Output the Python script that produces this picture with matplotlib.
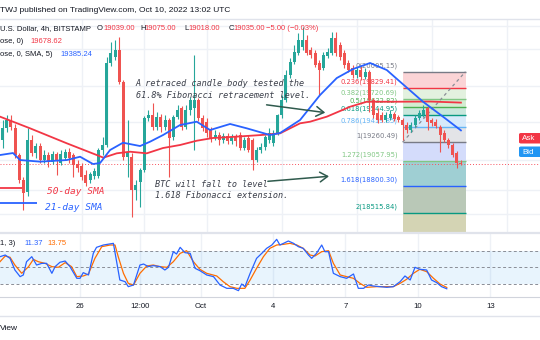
import numpy as np
import matplotlib
matplotlib.use('Agg')
import matplotlib.pyplot as plt
from matplotlib.patches import FancyBboxPatch
from matplotlib.lines import Line2D

plt.rcParams['font.family'] = ['Liberation Sans', 'DejaVu Sans']

# BTC/USD 4h candles (Bitstamp), oldest first
opens = [19285, 19410, 19495, 19410, 19125, 18860, 18735, 19285, 19145, 19220,
         19070, 19125, 19050, 19135, 19040, 19095, 19155, 19125, 19030, 19010,
         18915, 18860, 18905, 18905, 19180, 19230, 20095, 20160, 20235, 19895,
         19105, 19105, 18755, 18840, 18965, 19515, 19550, 19420, 19525, 19420,
         19495, 19315, 19525, 19620, 19420, 19600, 19620, 19705, 19515, 19475,
         19390, 19305, 19335, 19285, 19325, 19275, 19315, 19335, 19200, 19305,
         19285, 19070, 19180, 19210, 19285, 19250, 19360, 19550, 19705, 19970,
         20105, 20200, 20265, 20340, 20235, 20200, 20095, 20045, 20170, 20200,
         20360, 20285, 20200, 20095, 20045, 19970, 20025, 19950, 20000, 19705,
         19570, 19550, 19495, 19515, 19560, 19525, 19495, 19440, 19390, 19440,
         19515, 19550, 19620, 19495, 19475, 19420, 19360, 19285, 19230, 19145,
         19039]
highs = [19495, 19550, 19550, 19455, 19145, 18895, 19410, 19335, 19250, 19250,
         19180, 19155, 19165, 19155, 19180, 19190, 19200, 19145, 19070, 19040,
         18965, 18945, 18990, 19200, 19315, 20160, 20320, 20340, 20370, 19915,
         19495, 19145, 18860, 18990, 19535, 19600, 19675, 19580, 19560, 19550,
         19515, 19550, 19655, 19645, 19655, 19740, 20180, 19725, 19550, 19515,
         19420, 19390, 19370, 19360, 19360, 19345, 19345, 19370, 19315, 19335,
         19305, 19210, 19250, 19335, 19410, 19390, 19560, 19760, 20025, 20150,
         20285, 20415, 20475, 20390, 20265, 20235, 20130, 20215, 20255, 20425,
         20425, 20320, 20235, 20130, 20075, 20055, 20065, 20045, 20025, 19725,
         19620, 19580, 19580, 19600, 19580, 19550, 19515, 19475, 19475, 19550,
         19600, 19655, 19645, 19515, 19505, 19440, 19390, 19305, 19250, 19165,
         19075]
lows = [19200, 19370, 19390, 19095, 18830, 18545, 18690, 19115, 19095, 19040,
        19040, 19000, 19030, 18915, 19020, 19070, 19040, 18895, 18945, 18860,
        18800, 18830, 18870, 18880, 19125, 19210, 20065, 20130, 19875, 19070,
        18895, 18470, 18650, 18575, 18945, 19485, 19390, 19390, 19370, 19390,
        18895, 19285, 19505, 19390, 19400, 19550, 19180, 19485, 19380, 19315,
        19260, 19285, 19230, 19250, 19240, 19240, 19220, 19180, 19180, 19155,
        18965, 19050, 19145, 19180, 19250, 19220, 19335, 19515, 19685, 19940,
        20085, 20180, 20235, 20180, 20150, 20055, 19760, 20025, 20150, 20180,
        20170, 20130, 20045, 20000, 19940, 19940, 19915, 19930, 19580, 19515,
        19465, 19475, 19475, 19495, 19485, 19475, 19285, 19360, 19370, 19420,
        19495, 19525, 19390, 19430, 19410, 19155, 19260, 19200, 19105, 18990,
        19018]
closes = [19410, 19495, 19420, 19125, 18860, 18725, 19285, 19145, 19220, 19070,
          19125, 19050, 19135, 19070, 19135, 19155, 19095, 19020, 18990, 18895,
          18830, 18925, 18955, 19180, 19230, 20095, 20200, 20235, 19895, 19105,
          19155, 18755, 18810, 18965, 19515, 19550, 19420, 19525, 19420, 19495,
          19305, 19525, 19600, 19420, 19600, 19705, 19705, 19515, 19410, 19360,
          19305, 19335, 19285, 19325, 19275, 19315, 19275, 19200, 19285, 19180,
          19070, 19180, 19210, 19315, 19360, 19360, 19550, 19705, 19970, 20105,
          20215, 20340, 20340, 20200, 20180, 20075, 20025, 20180, 20215, 20360,
          20200, 20160, 20075, 20025, 19970, 20025, 19950, 20000, 19705, 19550,
          19495, 19495, 19550, 19560, 19505, 19495, 19440, 19390, 19440, 19515,
          19570, 19600, 19475, 19465, 19430, 19335, 19285, 19230, 19125, 19040,
          19035]

# moving averages (bar position, value)
sma50_x = [-0.6, 6.6, 15.4, 22.6, 24.2, 27.4, 30.6, 34.6, 38.5, 42.6, 46.6, 50.5,
           54.6, 62.0, 66.6, 71.4, 73.8, 77.8, 83.4, 87.4, 94.6, 102.6, 110]
sma50 = [19530, 19407, 19249, 19125, 19097, 19143, 19160, 19143, 19199, 19231, 19276, 19305,
         19315, 19336, 19354, 19460, 19477, 19530, 19635, 19688, 19688, 19690, 19678.62]
sma21_x = [-0.6, 2.5, 4.2, 9.0, 15.4, 18.6, 21.7, 23.4, 25.8, 28.9, 33.0, 35.4, 38.5, 42.6,
           46.6, 49.8, 54.6, 58.6, 64.2, 66.6, 71.4, 76.2, 80.2, 84.1, 88.2, 92.2, 95.4,
           100.9, 105.7, 110]
sma21 = [19125, 19146, 19072, 19055, 19072, 19107, 19030, 19041, 19178, 19255, 19220, 19266,
         19336, 19442, 19477, 19389, 19453, 19407, 19336, 19358, 19495, 19759, 19938, 20033,
         20097, 20023, 19899, 19688, 19530, 19385.24]

# stochastic %K and %D
k_x = [-0.9, 0.4, 1.6, 2.8, 4.1, 4.9, 5.7, 7.0, 8.2, 9.5, 10.7, 12.0, 12.8, 14.0, 15.3, 16.5,
       18.2, 19.0, 19.8, 21.1, 22.3, 23.1, 24.8, 27.3, 28.9, 30.2, 31.0, 32.3, 33.9, 34.8, 36.0,
       37.2, 38.9, 40.1, 41.0, 42.2, 43.0, 43.9, 45.1, 46.4, 47.6, 48.8, 50.5, 52.2, 53.8, 55.5,
       57.1, 58.4, 59.2, 60.0, 61.3, 62.9, 64.2, 65.4, 66.7, 67.9, 68.7, 69.6, 70.8, 72.1, 73.3,
       74.5, 75.8, 76.6, 77.8, 79.1, 79.9, 80.8, 82.0, 83.7, 85.3, 87.0, 88.2, 89.5, 90.7, 91.9,
       93.6, 95.3, 96.9, 98.6, 99.8, 101.1, 102.3, 103.5, 105.2, 106.4, 107.7, 108.9, 110.2]
stoch_k = [69.1, 72.1, 66.1, 45.2, 33.2, 36.2, 60.1, 69.1, 54.1, 57.1, 57.1, 39.2, 51.2, 59.0,
           61.3, 51.2, 30.2, 30.2, 40.4, 36.2, 75.1, 85.9, 90.1, 93.1, 27.2, 24.2, 15.2, 18.2,
           54.1, 55.9, 51.2, 53.0, 51.2, 45.2, 50.0, 78.1, 73.9, 85.9, 76.3, 75.1, 48.2, 44.0,
           36.2, 33.2, 18.2, 12.2, 12.2, 8.0, 20.0, 15.2, 39.2, 66.1, 75.1, 84.1, 90.1, 100.3,
           90.1, 93.1, 97.3, 93.1, 87.1, 84.1, 72.1, 66.1, 75.1, 90.1, 78.1, 78.1, 39.2, 33.2,
           30.2, 38.0, 12.2, 12.2, 18.2, 16.4, 15.2, 14.0, 15.2, 24.2, 34.4, 27.2, 50.0, 46.4,
           45.2, 27.2, 22.4, 15.2, 11.37]
d_x = [-0.9, 0.4, 1.6, 2.8, 4.5, 6.2, 7.4, 8.6, 10.3, 12.0, 13.6, 15.3, 16.9, 18.2, 19.8, 21.1,
       22.7, 24.4, 26.5, 27.7, 28.5, 29.8, 31.0, 32.3, 33.9, 35.6, 37.2, 38.9, 40.6, 42.2, 43.9,
       45.5, 47.2, 48.8, 50.5, 53.0, 54.6, 56.3, 58.0, 60.0, 61.3, 62.9, 64.6, 66.2, 67.9, 69.6,
       71.2, 72.9, 74.5, 76.2, 77.4, 79.1, 80.8, 82.0, 83.7, 85.3, 87.0, 88.6, 90.3, 92.8, 95.3,
       96.9, 98.6, 100.2, 101.9, 103.5, 105.2, 106.9, 108.5, 110.2]
stoch_d = [60.1, 70.3, 68.0, 54.1, 39.2, 51.2, 64.3, 60.1, 57.1, 51.2, 50.0, 58.4, 51.2, 33.2,
           34.4, 38.0, 66.1, 87.1, 90.1, 90.1, 69.1, 39.2, 21.2, 18.2, 39.2, 52.4, 54.1, 51.2,
           50.0, 60.1, 75.1, 79.9, 60.1, 46.4, 39.2, 34.4, 24.2, 15.2, 12.2, 12.2, 27.2, 48.2,
           69.1, 84.1, 90.1, 91.3, 93.1, 90.1, 84.1, 72.1, 70.3, 78.1, 79.9, 57.1, 36.2, 33.2,
           30.2, 21.2, 14.0, 15.2, 15.2, 15.2, 21.2, 28.4, 39.2, 46.4, 42.2, 30.2, 20.0, 13.75]

# fibonacci retracement / extension drawing
fib_names = ['0', '0.236', '0.382', '0.5', '0.618', '0.786', '1', '1.272', '1.618', '2']
fib_prices = [20005.15, 19829.41, 19720.69, 19632.82, 19544.95, 19419.85, 19260.49,
              19057.95, 18800.30, 18515.84]
fib_colors = ['#787b86', '#f23645', '#81c784', '#4caf50', '#089981', '#64b5f6', '#787b86',
              '#81c784', '#2962ff', '#089981']
fib_fills = ['#fbd4d6', '#e3f1df', '#d4ecd2', '#c8e7dc', '#d7eafa', '#e3e4e7', '#d4dcfb',
             '#9fcfd3', '#b9c8b7', '#d4d4b4']
fib_start, fib_end = 96, 111.1

date_ticks = [19, 34, 49, 67, 85, 103, 121]
date_labels = ['26', '12:00', 'Oct', '4', '7', '10', '13']
grid_prices = [20484, 20245, 19857, 19471, 19076, 18759, 18502]

W, H = 540.0, 340.0
fig = plt.figure(figsize=(5.4, 3.4), dpi=100)


def box(x0, y0, x1, y1):
    return [x0 / W, 1 - y1 / H, (x1 - x0) / W, (y1 - y0) / H]


def ftext(x, y, s, **kw):
    fig.text(x / W, 1 - y / H, s, va='center', ha=kw.pop('ha', 'left'), **kw)


def hline(y, color, lw=1.0):
    fig.add_artist(Line2D([0, 1], [1 - y / H, 1 - y / H], transform=fig.transFigure,
                          color=color, lw=lw))


ax = fig.add_axes(box(0, 18.5, 540, 232))
ax2 = fig.add_axes(box(0, 232, 540, 297))

# ---- price panel ----
ax.set_xlim(-0.62, 128.98)
ax.set_ylim(18312, 20567)
ax.set_xticks([])
ax.set_yticks([])
for s in ax.spines.values():
    s.set_visible(False)
for t in date_ticks:
    ax.axvline(t, color='#eef1f6', lw=1, zorder=0)
for p in grid_prices:
    ax.axhline(p, color='#eef1f6', lw=1, zorder=0)

# fib zones, lines and labels
zone_edges = fib_prices + [18055]
for i in range(len(fib_fills)):
    ax.fill_between([fib_start, fib_end], zone_edges[i + 1], zone_edges[i],
                    color=fib_fills[i], lw=0, zorder=1)
for name, p, c in zip(fib_names, fib_prices, fib_colors):
    ax.hlines(p, fib_start, fib_end, color=c, lw=1, zorder=2)
    ax.annotate(f'{name}({p:.2f})', (fib_start, p), xytext=(-3.5, 2.2),
                textcoords='offset points', ha='right', va='bottom',
                fontsize=4.9, color=c, zorder=3, family='DejaVu Sans')
ax.plot([fib_start, fib_end], [fib_prices[6], fib_prices[0]], color='#8a8d96',
        lw=0.9, dashes=(2.5, 2.5), zorder=2)

# last price line
ax.axhline(closes[-1], color='#f7525f', lw=0.7, ls=(0, (1, 2)), zorder=2)

# candles
o = np.array(opens, float)
c = np.array(closes, float)
idx = np.arange(len(o))
cols = np.where(c >= o, '#26a69a', '#ef5350')
ax.vlines(idx, lows, highs, colors=cols, lw=0.8, zorder=4)
bottom = np.minimum(o, c)
height = np.maximum(np.abs(c - o), 10)
ax.bar(idx, height, bottom=bottom, width=0.72, color=cols, lw=0, zorder=5)

# moving averages
ax.plot(sma50_x, sma50, color='#f23645', lw=1.3, zorder=6)
ax.plot(sma21_x, sma21, color='#2962ff', lw=1.3, zorder=6)

# notes
note = dict(family='DejaVu Sans Mono', style='italic', fontsize=6.1, color='#3b3f4a',
            linespacing=1.35, va='center', ha='left', zorder=7)
ax.text(32.0, 19817, 'A retraced candle body tested the\n61.8% Fibonacci retracement level.',
        **note)
ax.text(36.6, 18756, 'BTC will fall to level\n1.618 Fibonacci extension.', **note)
arrow = dict(arrowstyle='->,head_length=0.55,head_width=0.35', color='#2f5a4d', lw=1.1)
ax.annotate('', xy=(78.1, 19569), xytext=(62.7, 19659), arrowprops=arrow, zorder=7)
ax.annotate('', xy=(79.0, 18903), xytext=(63.0, 18845), arrowprops=arrow, zorder=7)

ax.hlines(18777, -1, 4.6, color='#f23645', lw=1.3, zorder=6)
ax.hlines(18618, -1, 8.3, color='#2962ff', lw=1.3, zorder=6)
ax.text(10.7, 18738, '50-day SMA', family='DejaVu Sans Mono', style='italic',
        fontsize=6.8, color='#f23645', va='center', zorder=7)
ax.text(10.2, 18566, '21-day SMA', family='DejaVu Sans Mono', style='italic',
        fontsize=6.8, color='#2962ff', va='center', zorder=7)

# ---- stochastic panel ----
ax2.set_xlim(-0.9, 133.38)
ax2.set_ylim(-3.4, 113.5)
ax2.set_yticks([])
for s in ['top', 'left', 'right']:
    ax2.spines[s].set_visible(False)
ax2.spines['bottom'].set_color('#d1d4dc')
ax2.spines['bottom'].set_linewidth(0.8)
for t in date_ticks:
    ax2.axvline(t, color='#eef1f6', lw=1, zorder=0)
ax2.axhspan(20, 80, color='#2196f3', alpha=0.1, lw=0, zorder=1)
for lvl in (80, 50, 20):
    ax2.axhline(lvl, color='#8a8d96', lw=0.7, ls=(0, (3, 2.5)), zorder=2)
ax2.plot(k_x, stoch_k, color='#2962ff', lw=0.9, zorder=4)
ax2.plot(d_x, stoch_d, color='#ff6d00', lw=0.9, zorder=3)
ax2.set_xticks(date_ticks, date_labels)
ax2.tick_params(axis='x', length=0, pad=4.5, labelsize=5.6, labelcolor='#131722')

# ---- header, legends, footer ----
hline(18.5, '#e0e3eb', 1.0)
hline(232.5, '#e0e3eb', 1.6)
hline(316, '#e0e3eb', 1.0)

ftext(0, 10.5, 'TWJ published on TradingView.com, Oct 10, 2022 13:02 UTC',
      fontsize=6, color='#131722')
ftext(0, 29, 'U.S. Dollar, 4h, BITSTAMP', fontsize=5.5, color='#131722')
for lab, lx, val, vx in [('O', 97, opens[-1], 103), ('H', 140.5, highs[-1], 144.5),
                         ('L', 184, lows[-1], 188), ('C', 229, closes[-1], 233.5)]:
    ftext(lx, 29, lab, fontsize=5.5, color='#131722')
    ftext(vx, 29, f'{val:.2f}', fontsize=5.5, color='#f23645')
# change against the previous bar's close
chg = closes[-1] - closes[-2]
ftext(266, 29, f'{chg:.2f} ({chg / closes[-2] * 100:.2f}%)'.replace('-', '\u2212'),
      fontsize=5.5, color='#f23645')
ftext(0, 41.5, 'ose, 0)', fontsize=5.5, color='#131722')
ftext(30, 41.5, f'{sma50[-1]:.2f}', fontsize=5.5, color='#f23645')
ftext(0, 54, 'ose, 0, SMA, 5)', fontsize=5.5, color='#131722')
ftext(60, 54, f'{sma21[-1]:.2f}', fontsize=5.5, color='#2962ff')
ftext(0, 243.5, '1, 3)', fontsize=5.5, color='#131722')
ftext(24, 243.5, f'{stoch_k[-1]:.2f}', fontsize=5.5, color='#2962ff')
ftext(47, 243.5, f'{stoch_d[-1]:.2f}', fontsize=5.5, color='#ff6d00')
ftext(0, 328, 'View', fontsize=6, color='#131722')

# ask / bid tags on the right edge
for lab, y0, col in [('Ask', 133, '#f23645'), ('Bid', 146.5, '#2196f3')]:
    fig.add_artist(FancyBboxPatch((519 / W, 1 - (y0 + 10.5) / H), 25 / W, 10.5 / H,
                                  boxstyle='round,pad=0,rounding_size=0.004',
                                  transform=fig.transFigure, color=col, lw=0))
    ftext(522, y0 + 5.5, lab, fontsize=5.8, color='white')

fig.savefig('out.png', dpi=100)
